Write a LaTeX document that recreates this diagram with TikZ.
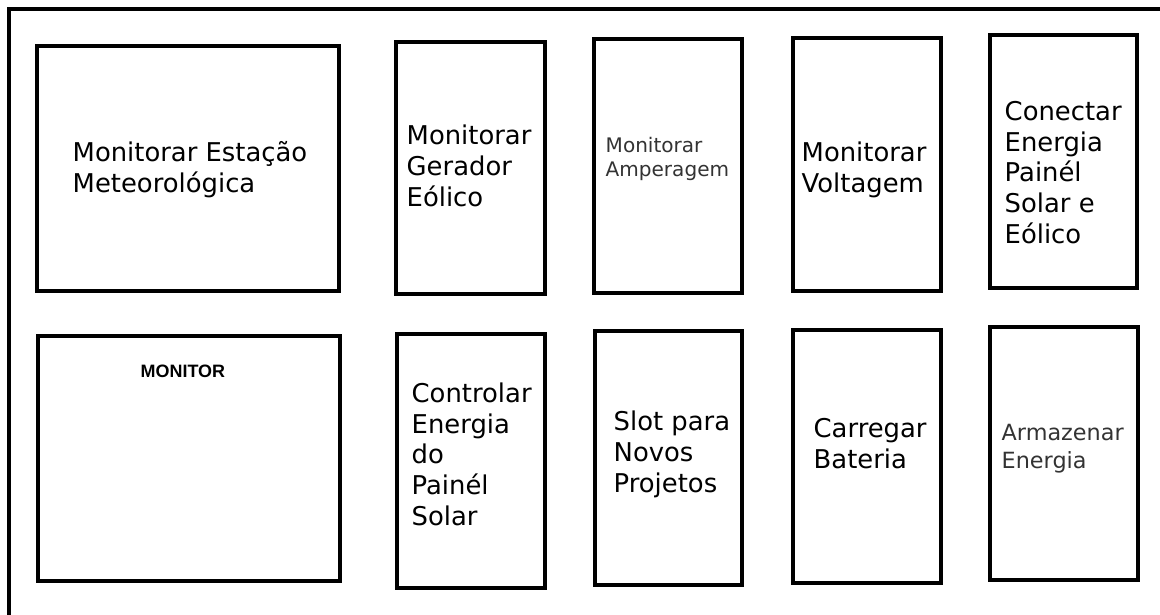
\documentclass[tikz,border=0pt]{standalone}
\usepackage{fontspec}
\setmainfont{DejaVu Sans}
\newfontfamily\monitorfont{Liberation Sans}

\begin{document}
\begin{tikzpicture}[x=0.01cm, y=-0.01cm,
    box/.style={line width=1.4pt},
    boxtext/.style={anchor=base west, inner sep=0pt, align=left, font=\fontsize{7.35}{8.7}\selectfont},
    lighttext/.style={boxtext, text=black!80}]
    \useasboundingbox (0,0) rectangle (1160,615);
    \draw[line width=1.3pt] (1160,9) -- (9,9) -- (9,615);

    \draw[box] (37,46) rectangle (339,291);
    \node[boxtext] (estacao) at (72,192) {Monitorar Estação\\Meteorológica};

    \draw[box] (396,42) rectangle (545,294);
    \node[boxtext] (gerador) at (406,206) {Monitorar\\Gerador\\Eólico};

    \draw[box] (594,39) rectangle (742,293);
    \node[lighttext, font=\fontsize{5.7}{6.55}\selectfont] (amperagem) at (605,176) {Monitorar\\Amperagem};

    \draw[box] (793,38) rectangle (941,291);
    \node[boxtext] (voltagem) at (801,192) {Monitorar\\Voltagem};

    \draw[box] (990,35) rectangle (1137,288);
    \node[boxtext] (conectar) at (1004,243) {Conectar\\Energia\\Painél\\Solar e\\Eólico};

    \draw[box] (38,336) rectangle (340,581);
    \node[anchor=base west, inner sep=0pt, font=\monitorfont\bfseries\fontsize{5.1}{6}\selectfont] (monitor) at (140,377) {MONITOR};

    \draw[box] (397,334) rectangle (545,588);
    \node[boxtext] (controlar) at (411,525) {Controlar\\Energia\\do\\Painél\\Solar};

    \draw[box] (595,331) rectangle (742,585);
    \node[boxtext] (slot) at (613,492) {Slot para\\Novos\\Projetos};

    \draw[box] (793,330) rectangle (941,583);
    \node[boxtext] (carregar) at (813,468) {Carregar\\Bateria};

    \draw[box] (990,327) rectangle (1138,580);
    \node[lighttext, font=\fontsize{6.35}{7.75}\selectfont] (armazenar) at (1001,468) {Armazenar\\Energia};
\end{tikzpicture}
\end{document}
